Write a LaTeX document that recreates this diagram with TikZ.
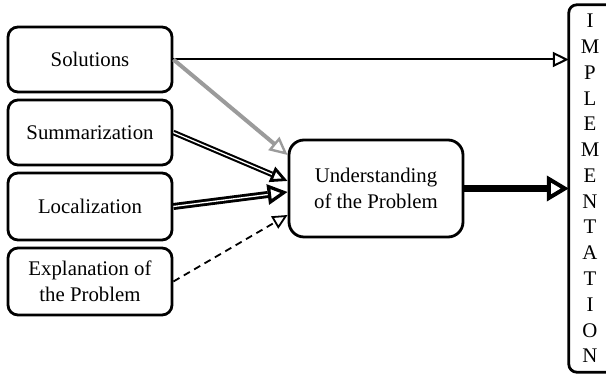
\documentclass[tikz,border=0pt]{standalone}
\usepackage{fontspec}
\setmainfont{Liberation Serif}
\usetikzlibrary{arrows.meta,calc}
\definecolor{arrgray}{RGB}{155,155,155}
\begin{document}
\begin{tikzpicture}[x=1pt,y=1pt,
 txt/.style={font=\fontsize{20.8}{25.5}\selectfont, align=center},
 box/.style={txt, draw, line width=2.8pt, rounded corners=10pt, minimum width=164pt, minimum height=65pt, inner sep=0pt},
]
\useasboundingbox (0,0) rectangle (606,374);
\node[box] (sol) at (90,314.5) {Solutions};
\node[box] (sum) at (90,241.5) {Summarization};
\node[box, minimum height=67pt] (loc) at (90,167.5) {Localization};
\node[box, minimum height=67pt] (exp) at (90,92.5) {Explanation of\\the Problem};
\node[box, minimum width=174pt, minimum height=97pt, rounded corners=15pt] (und) at (376,185.5) {Understanding\\of the Problem};
\node[txt, draw=none, inner sep=0pt, minimum width=42pt, minimum height=367pt, font=\fontsize{20.8}{25.77}\selectfont] (impl) at (590,185.5) {I\\M\\P\\L\\E\\M\\E\\N\\T\\A\\T\\I\\O\\N};
\draw[line width=2.8pt, rounded corners=8pt] ([xshift=37pt]impl.north west) -- (impl.north west) -- (impl.south west) -- ([xshift=37pt]impl.south west);
\coordinate (u1) at ($(und.west)+(0,33.5)$);
\coordinate (u2) at ($(und.west)+(0,7.5)$);
\coordinate (u3) at ($(und.west)+(0,-3.5)$);
\coordinate (u4) at ($(und.west)+(0,-26.5)$);
% Solutions -> Implementation
\draw[line width=2pt, -{Triangle[open,length=16pt,width=15pt]}] (sol.east) -- (sol.east -| impl.west);
% Solutions -> Understanding (grey)
\draw[arrgray, line width=4pt, -{Triangle[open,length=18pt,width=17pt,line width=2.4pt]}] (sol.east) -- (u1);
% Summarization -> Understanding (double)
\draw[line width=2.8pt, -{Triangle[open,length=17pt,width=16pt]}] ($(u2)!20pt!(sum.east)$) -- (u2);
\draw[line width=5.5pt, shorten >=17pt] (sum.east) -- (u2);
\draw[white, line width=1.3pt, shorten >=17pt] (sum.east) -- (u2);
% Localization -> Understanding (double, thicker)
\draw[line width=3.3pt, -{Triangle[open,length=20pt,width=20pt]}] ($(u3)!24pt!(loc.east)$) -- (u3);
\draw[line width=7pt, shorten >=20pt] (loc.east) -- (u3);
\draw[white, line width=1.3pt, shorten >=20pt] (loc.east) -- (u3);
% Explanation -> Understanding (dashed)
\draw[line width=1.8pt, dash pattern=on 7pt off 5pt, -{Triangle[open,length=15pt,width=14pt]}] (exp.east) -- (u4);
% Understanding -> Implementation (thick)
\draw[line width=7.5pt, -{Triangle[open,length=22pt,width=25pt,line width=4pt]}] (und.east) -- (und.east -| impl.west);
\end{tikzpicture}
\end{document}
